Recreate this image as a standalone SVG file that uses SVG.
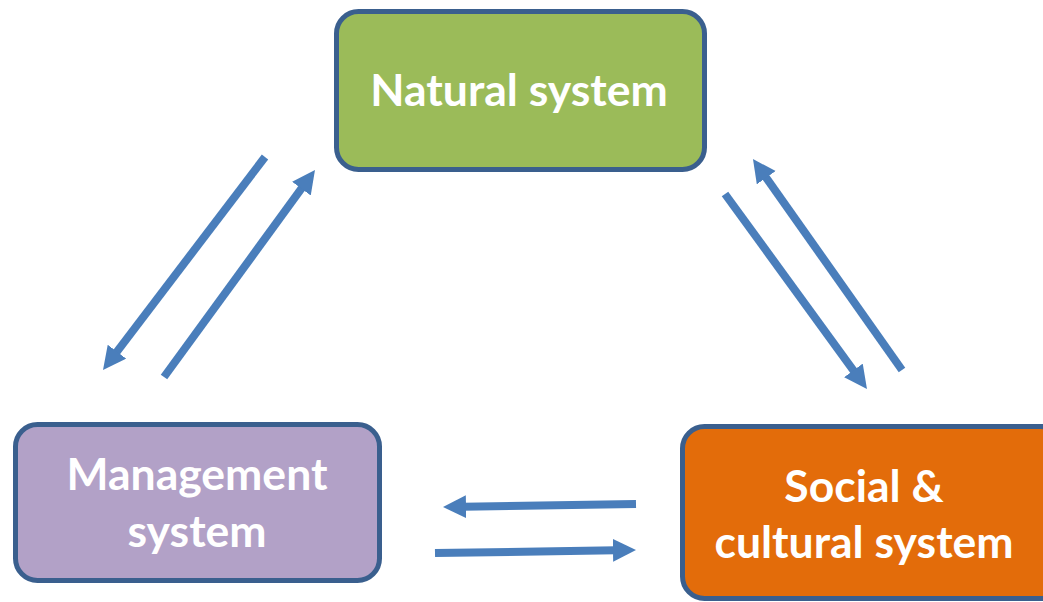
<svg xmlns="http://www.w3.org/2000/svg" width="1043" height="602" viewBox="0 0 1043 602">
<style>
.box{stroke:#3A5F8E;stroke-width:5}
.lbl{font-family:Lato,"Open Sans","Liberation Sans",sans-serif;font-weight:bold;font-size:44.5px;fill:#FFFFFF;text-anchor:middle}
.arr{stroke:#4A7EBB;stroke-width:8;fill:none;marker-end:url(#head)}
</style>
<defs>
<marker id="head" markerUnits="userSpaceOnUse" markerWidth="24" markerHeight="24" refX="3" refY="11.5" orient="auto" viewBox="0 0 24 24">
<path d="M0,0 L23,11.5 L0,23 z" fill="#4A7EBB"/>
</marker>
</defs>
<rect width="1043" height="602" fill="#FFFFFF"/>
<g id="natural">
<rect class="box" x="336.5" y="11.5" width="368" height="158" rx="22" fill="#9BBB59"/>
<text class="lbl" x="519" y="106">Natural system</text>
</g>
<g id="management">
<rect class="box" x="15.5" y="424.5" width="364" height="156" rx="22" fill="#B2A1C7"/>
<text class="lbl" x="197" y="490">Management</text>
<text class="lbl" x="197" y="547">system</text>
</g>
<g id="social">
<rect class="box" x="682.5" y="426.5" width="380" height="172" rx="22" fill="#E36C0A"/>
<text class="lbl" x="864" y="502">Social &amp;</text>
<text class="lbl" x="864" y="558">cultural system</text>
</g>
<g id="connectors">
<line class="arr" x1="265" y1="157" x2="115.1" y2="354.1"/>
<line class="arr" x1="164" y1="377" x2="303.2" y2="186.2"/>
<line class="arr" x1="902" y1="370" x2="764.5" y2="175.3"/>
<line class="arr" x1="725" y1="194" x2="855.2" y2="372.8"/>
<line class="arr" x1="636" y1="504" x2="463" y2="506.7"/>
<line class="arr" x1="435" y1="553" x2="616" y2="550.3"/>
</g>
</svg>
